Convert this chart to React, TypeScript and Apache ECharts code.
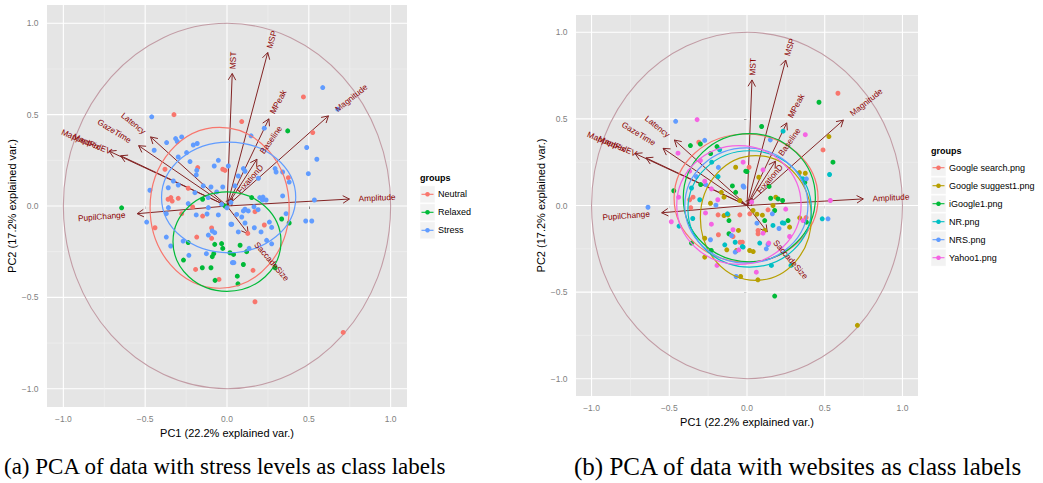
import React, { useEffect, useRef } from 'react';
import * as echarts from 'echarts';

// ---------- axes ----------
const majorBreaks = [-1, -0.5, 0, 0.5, 1];
const minorBreaks = [-0.75, -0.25, 0.25, 0.75];
const axisMin = -1.1;
const axisMax = 1.1;
const xTitle = 'PC1 (22.2% explained var.)';
const yTitle = 'PC2 (17.2% explained var.)';

// ---------- variable loadings (arrows) ----------
const varNames = ['MST', 'MSP', 'MPeak', 'Magnitude', 'Baseline', 'FixationD', 'Amplitude', 'PupilChange', 'Latency', 'GazeTime', 'MappedFix', 'MappedEV', 'SaccadeSize'];
const varX = [0.032, 0.249, 0.256, 0.62, 0.183, 0.035, 0.748, -0.549, -0.467, -0.54, -0.72, -0.65, 0.13];
const varY = [0.725, 0.84, 0.477, 0.493, 0.256, 0.04, 0.038, -0.042, 0.378, 0.33, 0.30, 0.275, -0.152];

// ---------- (a) stress level groups ----------
const groupsA = ['Neutral', 'Relaxed', 'Stress'];
const colorsA = ['#F8766D', '#00BA38', '#619CFF'];
const neutralPts = [[-0.324,0.5],[-0.179,0.21],[-0.379,0.201],[-0.026,0.201],[-0.012,0.195],[-0.36,0.037],[-0.343,0.046],[-0.335,0.027],[-0.298,0.042],[-0.237,0.097],[-0.21,-0.005],[-0.44,-0.119],[-0.277,-0.042],[-0.149,-0.055],[-0.185,-0.17],[-0.094,-0.177],[-0.094,-0.12],[-0.192,-0.347],[-0.049,-0.402],[0.09,0.462],[0.467,0.597],[0.524,0.402],[0.375,0.155],[0.171,-0.031],[0.228,-0.104],[0.127,-0.15],[0.159,-0.352],[0.171,-0.524],[0.71,-0.692]];
const relaxedPts = [[-0.149,0.037],[-0.012,0.0],[-0.237,-0.2],[-0.075,-0.21],[-0.033,-0.206],[-0.026,-0.232],[-0.081,-0.261],[-0.266,-0.296],[-0.151,-0.338],[-0.098,-0.338],[-0.09,-0.277],[-0.073,-0.407],[0.018,-0.256],[0.371,0.411],[0.151,0.046],[0.334,-0.071],[0.38,-0.093],[0.08,-0.215],[0.12,-0.25],[0.04,-0.265],[0.1,-0.32],[0.294,-0.338],[0.063,-0.384],[0.067,-0.426],[-0.644,-0.01]];
const stressPts = [[-0.46,0.488],[-0.369,0.347],[-0.314,0.369],[-0.304,0.353],[-0.277,0.378],[-0.445,0.305],[-0.298,0.268],[-0.247,0.292],[-0.206,0.334],[-0.182,0.342],[-0.226,0.243],[-0.185,0.195],[-0.188,0.17],[-0.078,0.219],[-0.053,0.25],[0.008,0.219],[-0.471,0.086],[-0.359,0.1],[-0.328,0.137],[-0.298,0.115],[-0.358,-0.009],[-0.237,0.013],[-0.196,0.073],[-0.098,0.104],[-0.026,0.104],[-0.063,0.077],[-0.115,0.046],[-0.491,-0.088],[-0.371,-0.042],[-0.188,-0.049],[-0.122,-0.044],[-0.053,-0.049],[-0.033,0.009],[0.024,-0.1],[-0.371,-0.17],[-0.344,-0.219],[-0.268,-0.192],[-0.114,-0.159],[-0.09,-0.137],[-0.075,-0.146],[-0.126,-0.261],[-0.233,-0.27],[0.033,-0.31],[0.0,-0.01],[0.585,0.648],[0.677,0.53],[0.228,0.426],[0.147,0.384],[0.487,0.32],[0.549,0.256],[0.1,0.205],[0.069,0.164],[0.294,0.205],[0.3,0.186],[0.34,0.186],[0.38,0.131],[0.497,0.177],[0.192,0.152],[0.2,0.046],[0.22,0.049],[0.216,0.033],[0.239,0.033],[0.34,0.055],[0.534,0.033],[0.024,0.02],[0.1,-0.027],[0.13,-0.027],[0.165,-0.004],[0.059,-0.046],[0.09,-0.06],[0.029,-0.1],[0.11,-0.093],[0.167,-0.119],[0.208,-0.142],[0.259,-0.088],[0.273,-0.117],[0.361,-0.042],[0.481,-0.082],[0.518,-0.082],[0.069,-0.142],[0.242,-0.188],[0.273,-0.207],[0.135,-0.232],[0.042,-0.31],[-0.145,0.11],[0.049,0.11],[0.11,0.19],[-0.114,-0.009],[0.11,-0.018],[0.19,-0.02]];
const pointsA = [neutralPts, relaxedPts, stressPts];
// ellipse: [cx, cy, rx, ry]
const ellipsesA = [[-0.045,-0.01,0.425,0.44],[0.0,-0.195,0.33,0.272],[0.01,0.047,0.41,0.303]];

// ---------- (b) website groups ----------
const groupsB = ['Google search.png', 'Google suggest1.png', 'iGoogle1.png', 'NR.png', 'NRS.png', 'Yahoo1.png'];
const colorsB = ['#F8766D', '#B79F00', '#00BA38', '#00BFC4', '#619CFF', '#F564E3'];
const googleSearchPts = [[-0.31,0.365],[-0.347,0.048],[-0.369,0.033],[-0.362,-0.013],[-0.186,-0.054],[-0.046,-0.054],[-0.184,-0.169],[-0.09,-0.179],[-0.045,-0.212],[0.585,0.648],[0.489,0.321],[0.013,0.221],[0.135,-0.025],[0.018,-0.048],[0.071,-0.144],[0.071,-0.163],[-0.03,-0.212],[0.38,-0.07]];
const googleSuggestPts = [[-0.073,0.221],[-0.165,0.076],[-0.148,0.048],[-0.046,0.029],[-0.235,0.013],[-0.148,-0.058],[-0.122,-0.054],[-0.055,-0.144],[-0.067,-0.26],[-0.13,-0.256],[-0.272,-0.189],[-0.272,-0.298],[-0.041,-0.41],[0.527,0.398],[0.076,0.163],[0.337,0.19],[0.375,0.186],[0.185,0.048],[0.167,0.0],[0.039,-0.029],[0.064,-0.05],[0.099,-0.056],[0.339,-0.071],[0.274,-0.125],[0.114,-0.144],[0.017,-0.26],[0.04,-0.266],[0.07,-0.429],[0.71,-0.692]];
const iGooglePts = [[-0.364,0.346],[-0.3,0.355],[-0.193,0.34],[-0.234,0.3],[-0.008,0.198],[-0.298,0.121],[-0.471,0.085],[-0.094,0.113],[-0.073,0.076],[-0.116,-0.087],[-0.116,-0.163],[-0.357,-0.217],[-0.23,-0.26],[0.463,0.596],[0.553,0.25],[0.094,0.456],[0.0,0.196],[0.372,0.134],[0.142,0.11],[0.152,0.042],[0.2,0.038],[0.229,0.029],[0.178,-0.029],[0.114,-0.087],[0.264,-0.087],[0.382,-0.096],[0.178,-0.523]];
const nrPts = [[-0.176,0.322],[-0.227,0.25],[-0.186,0.167],[-0.357,0.101],[-0.304,0.033],[-0.349,-0.075],[-0.437,-0.119],[-0.126,-0.048],[-0.03,-0.237],[-0.076,-0.212],[-0.143,-0.227],[0.232,0.429],[0.36,0.154],[0.531,0.179],[0.484,-0.077],[0.227,-0.1],[0.238,-0.102],[0.167,-0.115],[-0.025,-0.24],[0.082,-0.217],[0.157,-0.346],[0.283,-0.346]];
const nrsPts = [[-0.459,0.486],[-0.272,0.376],[-0.184,0.22],[-0.326,0.167],[-0.265,0.121],[-0.025,0.113],[-0.2,0.002],[-0.637,-0.01],[-0.1,-0.173],[-0.235,-0.198],[-0.076,-0.269],[-0.07,-0.41],[0.15,0.379],[-0.02,0.106],[0.382,0.154],[0.521,-0.077],[0.163,-0.048],[0.064,-0.102],[0.206,-0.133],[0.135,-0.225],[0.124,-0.25]];
const yahooPts = [[-0.321,0.496],[-0.444,0.302],[-0.3,0.26],[-0.025,0.25],[-0.369,0.198],[-0.272,0.14],[-0.229,0.096],[-0.44,0.048],[-0.188,0.033],[-0.267,-0.043],[-0.487,-0.094],[-0.229,-0.108],[-0.09,-0.14],[-0.053,-0.256],[-0.193,-0.346],[0.536,0.029],[0.375,0.409],[0.103,0.206],[0.03,0.02],[0.249,-0.021],[0.36,-0.087],[0.103,-0.16],[0.14,-0.217],[0.274,-0.179],[0.06,-0.385]];
const pointsB = [googleSearchPts, googleSuggestPts, iGooglePts, nrPts, nrsPts, yahooPts];
const ellipsesB = [[-0.006,0.043,0.463,0.37],[0.057,-0.072,0.357,0.36],[0.015,0.045,0.425,0.37],[0.017,-0.02,0.397,0.336],[-0.004,0.0,0.396,0.333],[-0.052,0.003,0.4,0.343]];

const captionA = '(a) PCA of data with stress levels as class labels';
const captionB = '(b) PCA of data with websites as class labels';

const SANS = '"Liberation Sans", Arial, sans-serif';
const ARROW = '#832424';
const LABEL = '#8B0000';
const CIRCLE = '#C29CA5';
const VAR_FONT = `8.3px ${SANS}`;

let measureCtx: CanvasRenderingContext2D | null = null;
function textWidth(t: string, font: string) {
  if (!measureCtx) measureCtx = document.createElement('canvas').getContext('2d');
  if (!measureCtx) return t.length * 5;
  measureCtx.font = font;
  return measureCtx.measureText(t).width;
}

const fmt = (v: number) => v.toFixed(1).replace('-', '\u2212');

function buildPanel(gi: number, groups: string[], colors: string[], pts: number[][][], ells: number[][], series: any[]) {
  const axisRef = { xAxisIndex: gi, yAxisIndex: gi };
  // grid lines
  const gridData = [...majorBreaks.map((v) => [v, 1]), ...minorBreaks.map((v) => [v, 0])];
  series.push({
    type: 'custom', ...axisRef, z: 1, silent: true,
    data: gridData.map((d) => [d[0], 0, d[1]]),
    renderItem: (params: any, api: any) => {
      const cs = params.coordSys;
      const v = api.value(0);
      const major = api.value(2) === 1;
      const px = api.coord([v, 0])[0];
      const py = api.coord([0, v])[1];
      const st = { stroke: major ? '#FFFFFF' : '#F2F2F2', lineWidth: major ? 1.1 : 0.6 };
      return {
        type: 'group',
        children: [
          { type: 'line', shape: { x1: px, y1: cs.y, x2: px, y2: cs.y + cs.height }, style: st },
          { type: 'line', shape: { x1: cs.x, y1: py, x2: cs.x + cs.width, y2: py }, style: st },
        ],
      };
    },
  });
  // unit circle
  series.push({
    type: 'custom', ...axisRef, z: 2, silent: true,
    data: [[0, 0, 1, 1]],
    renderItem: (_p: any, api: any) => {
      const c = api.coord([api.value(0), api.value(1)]);
      const s = api.size([api.value(2), api.value(3)]);
      return { type: 'ellipse', shape: { cx: c[0], cy: c[1], rx: s[0], ry: s[1] }, style: { fill: 'none', stroke: CIRCLE, lineWidth: 1.1 } };
    },
  });
  // arrows
  series.push({
    type: 'custom', ...axisRef, z: 3, silent: true,
    data: varX.map((x, i) => [x, varY[i]]),
    renderItem: (_p: any, api: any) => {
      const o = api.coord([0, 0]);
      const t = api.coord([api.value(0), api.value(1)]);
      const ang = Math.atan2(t[1] - o[1], t[0] - o[0]);
      const L = 7.5;
      const a = Math.PI / 6;
      const p1 = [t[0] - L * Math.cos(ang - a), t[1] - L * Math.sin(ang - a)];
      const p2 = [t[0] - L * Math.cos(ang + a), t[1] - L * Math.sin(ang + a)];
      return {
        type: 'group',
        children: [
          { type: 'line', shape: { x1: o[0], y1: o[1], x2: t[0], y2: t[1] }, style: { stroke: ARROW, lineWidth: 1 } },
          { type: 'polyline', shape: { points: [p1, t, p2] }, style: { stroke: ARROW, fill: 'none', lineWidth: 1 } },
        ],
      };
    },
  });
  // points
  groups.forEach((g, i) => {
    series.push({
      type: 'scatter', name: g, ...axisRef, z: 4, silent: true,
      data: pts[i], symbolSize: 5, itemStyle: { color: colors[i], opacity: 1 },
    });
  });
  // ellipses
  series.push({
    type: 'custom', ...axisRef, z: 5, silent: true,
    data: ells,
    renderItem: (params: any, api: any) => {
      const c = api.coord([api.value(0), api.value(1)]);
      const s = api.size([api.value(2), api.value(3)]);
      return { type: 'ellipse', shape: { cx: c[0], cy: c[1], rx: s[0], ry: s[1] }, style: { fill: 'none', stroke: colors[params.dataIndex], lineWidth: 1.2 } };
    },
  });
  // variable labels
  series.push({
    type: 'custom', ...axisRef, z: 6, silent: true,
    data: varX.map((x, i) => [x, varY[i]]),
    renderItem: (params: any, api: any) => {
      const x = api.value(0);
      const y = api.value(1);
      const t = api.coord([x, y]);
      const name = varNames[params.dataIndex];
      const w = textWidth(name, VAR_FONT);
      const right = x >= 0;
      const rot = Math.atan(y / x);
      return {
        type: 'group', x: t[0], y: t[1], rotation: rot,
        children: [{
          type: 'text', x: right ? 0.25 * w : -0.25 * w, y: 0,
          style: { text: name, align: right ? 'left' : 'right', verticalAlign: 'middle', fill: LABEL, font: VAR_FONT },
        }],
      };
    },
  });
}

function axisPair(gi: number, yGap: number, xGap: number) {
  const common = {
    gridIndex: gi, type: 'value', min: axisMin, max: axisMax,
    axisLine: { show: false },
    axisTick: { show: true, length: 3, customValues: majorBreaks, lineStyle: { color: '#444', width: 1 } },
    splitLine: { show: false },
    axisLabel: { customValues: majorBreaks, formatter: fmt, color: '#7F7F7F', fontSize: 8.5, fontFamily: SANS },
    nameLocation: 'middle',
    nameTextStyle: { color: '#000', fontSize: 11, fontFamily: SANS },
  };
  return {
    x: { ...common, name: xTitle, nameGap: xGap, axisLabel: { ...common.axisLabel, margin: 7 } },
    y: { ...common, name: yTitle, nameGap: yGap, axisLabel: { ...common.axisLabel, margin: 8.5 } },
  };
}

function legendGraphic(title: string, groups: string[], colors: string[], x: number, titleY: number, firstY: number) {
  const els: any[] = [{ type: 'text', x, y: titleY, style: { text: title, font: `bold 9px ${SANS}`, fill: '#000', verticalAlign: 'middle' } }];
  groups.forEach((g, i) => {
    const cy = firstY + i * 18;
    els.push({ type: 'rect', shape: { x, y: cy - 8.5, width: 15, height: 17 }, style: { fill: '#F2F2F2', stroke: '#FFFFFF', lineWidth: 0.5 } });
    els.push({ type: 'line', shape: { x1: x + 1.5, y1: cy, x2: x + 13.5, y2: cy }, style: { stroke: colors[i], lineWidth: 1.1 } });
    els.push({ type: 'circle', shape: { cx: x + 7.5, cy, r: 2.3 }, style: { fill: colors[i] } });
    els.push({ type: 'text', x: x + 18, y: cy, style: { text: g, font: `9px ${SANS}`, fill: '#000', verticalAlign: 'middle' } });
  });
  return els;
}

export default function App() {
  const ref = useRef<HTMLDivElement>(null);
  useEffect(() => {
    if (!ref.current) return;
    const chart = echarts.init(ref.current, undefined, { renderer: 'svg' });
    const series: any[] = [];
    buildPanel(0, groupsA, colorsA, pointsA, ellipsesA, series);
    buildPanel(1, groupsB, colorsB, pointsB, ellipsesB, series);
    const a = axisPair(0, 26, 16.5);
    const b = axisPair(1, 25, 17.5);
    chart.setOption({
      animation: false,
      backgroundColor: '#FFFFFF',
      textStyle: { fontFamily: SANS },
      grid: [
        { left: 47, top: 5, width: 360, height: 402, show: true, backgroundColor: '#E5E5E5', borderWidth: 0, containLabel: false },
        { left: 576, top: 15, width: 342, height: 381, show: true, backgroundColor: '#E5E5E5', borderWidth: 0, containLabel: false },
      ],
      xAxis: [a.x, b.x],
      yAxis: [a.y, b.y],
      series,
      graphic: [
        ...legendGraphic('groups', groupsA, colorsA, 420, 178, 194.3),
        ...legendGraphic('groups', groupsB, colorsB, 931, 150.5, 167.7),
        { type: 'text', x: 4, y: 466, style: { text: captionA, font: '23px "Liberation Serif", serif', fill: '#000', verticalAlign: 'middle' } },
        { type: 'text', x: 574, y: 466, style: { text: captionB, font: '25px "Liberation Serif", serif', fill: '#000', verticalAlign: 'middle' } },
      ],
    });
    return () => chart.dispose();
  }, []);
  return <div ref={ref} style={{ position: 'absolute', left: 0, top: 0, width: 1043, height: 483 }} />;
}
